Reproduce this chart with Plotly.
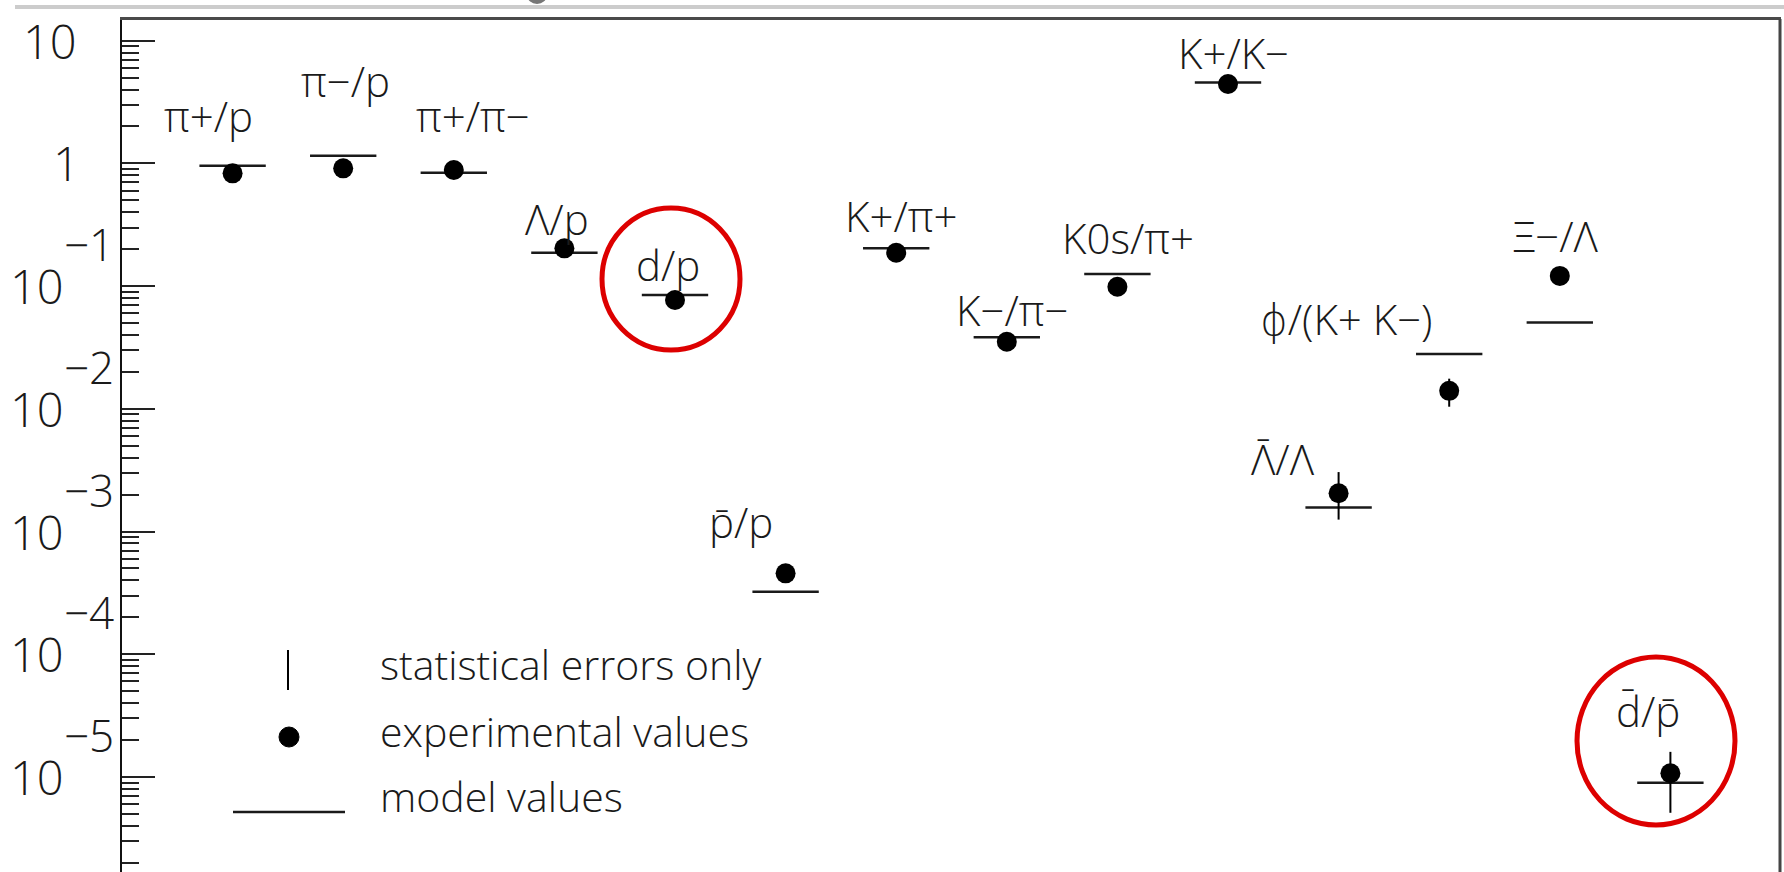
import math
import plotly.graph_objects as go

# ---------------- data ----------------
ratios = ["π+/p", "π−/p", "π+/π−", "Λ/p", "d/p", "p̄/p", "K+/π+", "K−/π−",
          "K0s/π+", "K+/K−", "Λ̄/Λ", "ϕ/(K+ K−)", "Ξ−/Λ", "d̄/p̄"]
experimental = [0.830, 0.912, 0.883, 0.203, 0.0771, 4.56e-4, 0.187, 0.0352,
                0.0988, 4.44, 2.05e-3, 0.0140, 0.121, 1.07e-5]
err_plus = [0.02, 0.02, 0.02, 0.006, 0.003, 1.5e-5, 0.005, 0.0015,
            0.004, 0.1, 1.0e-3, 0.0036, 0.006, 0.53e-5]
err_minus = [0.02, 0.02, 0.02, 0.006, 0.003, 1.5e-5, 0.005, 0.0015,
             0.004, 0.1, 0.8e-3, 0.0036, 0.006, 0.56e-5]
model = [0.958, 1.156, 0.840, 0.187, 0.0847, 3.23e-4, 0.203, 0.0383,
         0.1256, 4.56, 1.57e-3, 0.0280, 0.0505, 8.96e-6]
decades = [1, 0, -1, -2, -3, -4, -5]
legend_texts = ["statistical errors only", "experimental values", "model values"]

# label offsets (pixels) relative to the experimental point
label_shift = [(-24, 58), (2, 88), (19, 55), (-7, 30), (-7, 35), (-45, 52), (5, 37),
               (5, 32), (11, 49), (5, 31), (-56, 35), (-103, 72), (-4, 40), (-22, 63)]

# ---------------- geometry ----------------
W, H = 1784, 872
ML, MR, MT, MB = 122, 3, 20, 0
PW, PH = W - ML - MR, H - MT - MB
Y_TOP, Y_BOT = 1.1687, -5.775


def px(x):
    return (x - ML) / PW


def py(y):
    return (H - y) / PH


FONT = "Open Sans"
FW = 300
INK = "#1a1a1a"
xs = list(range(len(ratios)))


def label_html(name):
    # the stroked phi glyph is taken from DejaVu Sans (Open Sans has only the loopy form)
    return name.replace("ϕ", "<span style='font-family:DejaVu Sans;font-weight:200'>ϕ</span>")


fig = go.Figure()

# model values: horizontal bars
fig.add_trace(go.Scatter(
    x=xs, y=model, mode="markers",
    marker=dict(size=1, color="rgba(0,0,0,0)"),
    error_x=dict(type="constant", value=0.30, width=0, thickness=2.5, color=INK),
    showlegend=False, hoverinfo="skip"))

# experimental values with statistical errors
fig.add_trace(go.Scatter(
    x=xs, y=experimental, mode="markers",
    marker=dict(size=20, color="black", symbol="circle"),
    error_y=dict(type="data", array=err_plus, arrayminus=err_minus,
                 symmetric=False, width=0, thickness=2, color="black"),
    showlegend=False, text=ratios))

annotations = []
# ratio labels
for i, (name, v) in enumerate(zip(ratios, experimental)):
    dx, dy = label_shift[i]
    annotations.append(dict(
        x=i, y=math.log10(v), xref="x", yref="y", text=label_html(name), showarrow=False,
        xanchor="center", yanchor="middle", xshift=dx, yshift=dy,
        font=dict(family=FONT, size=42, color=INK, weight=FW)))

# y tick labels in the "10 with raised exponent" style
TICK_SIZE = 47
for d in decades:
    if d == 1:
        annotations.append(dict(x=px(79), y=d, xref="paper", yref="y", text="10",
                                showarrow=False, xanchor="right", yanchor="middle",
                                font=dict(family=FONT, size=TICK_SIZE, color=INK, weight=FW)))
    elif d == 0:
        annotations.append(dict(x=px(66), y=d, xref="paper", yref="y", text="1",
                                showarrow=False, xanchor="center", yanchor="middle",
                                font=dict(family=FONT, size=TICK_SIZE, color=INK, weight=FW)))
    else:
        annotations.append(dict(x=px(66), y=d, xref="paper", yref="y", text="10",
                                showarrow=False, xanchor="right", yanchor="middle",
                                font=dict(family=FONT, size=TICK_SIZE, color=INK, weight=FW)))
        annotations.append(dict(x=px(62), y=d, xref="paper", yref="y",
                                text="−" + str(-d), showarrow=False,
                                xanchor="left", yanchor="middle", yshift=42,
                                font=dict(family=FONT, size=44, color=INK, weight=FW)))

# legend texts
for t, yy in zip(legend_texts, [670, 737, 802]):
    annotations.append(dict(x=px(378), y=py(yy - 6), xref="paper", yref="paper",
                            text=t, showarrow=False, xanchor="left", yanchor="middle",
                            font=dict(family=FONT, size=41, color=INK, weight=FW)))

shapes = [
    # legend glyphs
    dict(type="line", xref="paper", yref="paper", x0=px(288), x1=px(288),
         y0=py(650), y1=py(690), line=dict(color="black", width=2)),
    dict(type="circle", xref="paper", yref="paper", x0=px(279), x1=px(299),
         y0=py(727), y1=py(747), fillcolor="black", line=dict(color="black", width=1)),
    dict(type="line", xref="paper", yref="paper", x0=px(233), x1=px(345),
         y0=py(812), y1=py(812), line=dict(color=INK, width=2.5)),
    # red highlight circles
    dict(type="circle", xref="paper", yref="paper", x0=px(602), x1=px(740),
         y0=py(350), y1=py(208), line=dict(color="#dd0000", width=5)),
    dict(type="circle", xref="paper", yref="paper", x0=px(1577), x1=px(1735),
         y0=py(825), y1=py(657), line=dict(color="#dd0000", width=5)),
    # window border artefacts at the very top
    dict(type="line", xref="paper", yref="paper", x0=px(15), x1=px(1784),
         y0=py(7), y1=py(7), line=dict(color="#cccccc", width=4)),
    dict(type="circle", xref="paper", yref="paper", x0=px(527), x1=px(547),
         y0=py(4), y1=py(-14), fillcolor="#777777", line=dict(width=0)),
    # right frame (darker grey, slightly heavier like the reference)
    dict(type="line", xref="paper", yref="paper", x0=px(1780), x1=px(1780),
         y0=0, y1=py(19), line=dict(color="#444444", width=3)),
]

minor_vals = [m * 10 ** k for k in range(-6, 2) for m in range(2, 10)]

fig.update_layout(
    width=W, height=H, autosize=False,
    margin=dict(l=ML, r=MR, t=MT, b=MB),
    paper_bgcolor="white", plot_bgcolor="white",
    showlegend=False,
    annotations=annotations, shapes=shapes,
    xaxis=dict(range=[-1, 14], side="top", showline=True, linecolor="#4a4a4a",
               linewidth=3, showgrid=False, zeroline=False, ticks="",
               showticklabels=False),
    yaxis=dict(type="log", range=[Y_BOT, Y_TOP], showline=True, linecolor="#111111",
               linewidth=2, mirror=False, showgrid=False, zeroline=False,
               tickmode="array", tickvals=[10 ** d for d in decades],
               ticks="inside", ticklen=33, tickwidth=2, tickcolor="#222222",
               showticklabels=False,
               minor=dict(tickmode="array", tickvals=minor_vals, ticks="inside",
                          ticklen=17, tickwidth=2, tickcolor="#222222",
                          showgrid=False)),
)

fig.write_html("out.html", config={"displayModeBar": False},
               post_script="document.body.style.margin='0px';"
                           "document.body.style.overflow='hidden';")
